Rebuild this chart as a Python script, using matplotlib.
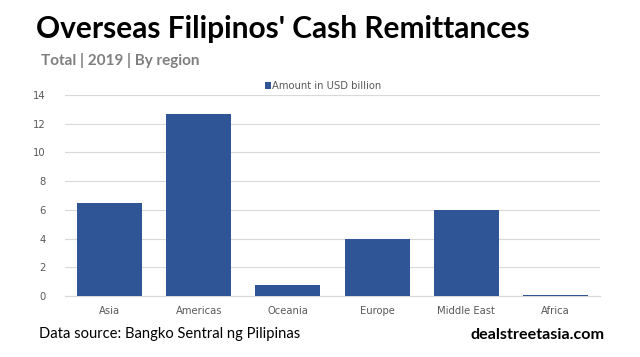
import matplotlib
matplotlib.use("Agg")
import matplotlib.pyplot as plt

regions = ["Asia", "Americas", "Oceania", "Europe", "Middle East", "Africa"]
amounts = [6.5, 12.7, 0.8, 4.0, 6.0, 0.1]
yticks = [0, 2, 4, 6, 8, 10, 12, 14]

BAR = "#2F5597"
fig = plt.figure(figsize=(6.4, 3.57), dpi=100)
ax = fig.add_axes([65/640, 1-296/357, 535/640, 201/357])

bars = ax.bar(regions, amounts, width=0.73, color=BAR, label="Amount in USD billion", zorder=3)
ax.set_ylim(0, 14)
ax.set_xlim(-0.5, len(regions)-0.5)
ax.set_yticks(yticks)
ax.yaxis.grid(True, color="#D9D9D9", linewidth=0.8, zorder=0)
for s in ["top", "right", "left"]:
    ax.spines[s].set_visible(False)
ax.spines["bottom"].set_color("#D9D9D9")
ax.tick_params(length=0, labelsize=7.2, labelcolor="#595959", pad=7)
ax.tick_params(axis="y", pad=14)
for lab in ax.get_xticklabels() + ax.get_yticklabels():
    lab.set_fontfamily("DejaVu Sans")

leg = ax.legend(loc="lower center", bbox_to_anchor=(0.483, 0.975), frameon=False,
                handlelength=0.55, handleheight=0.55, handletextpad=0.15,
                prop={"family": "DejaVu Sans", "size": 7.2})
for t in leg.get_texts():
    t.set_color("#595959")

fig.text(36/640, 1-29/357, "Overseas Filipinos' Cash Remittances", fontsize=21.5,
         fontweight="bold", family="Lato", va="center", ha="left", color="black")
fig.text(41/640, 1-61/357, "Total | 2019 | By region", fontsize=11,
         fontweight="bold", family="Lato", va="center", ha="left", color="#7F7F7F")
fig.text(39/640, 1-334/357, "Data source: Bangko Sentral ng Pilipinas", fontsize=10.6,
         family="Lato", va="center", ha="left", color="black")
fig.text(605/640, 1-335/357, "dealstreetasia.com", fontsize=11.6, fontweight="bold",
         family="Lato", va="center", ha="right", color="black")

fig.savefig("out.png", dpi=100)
